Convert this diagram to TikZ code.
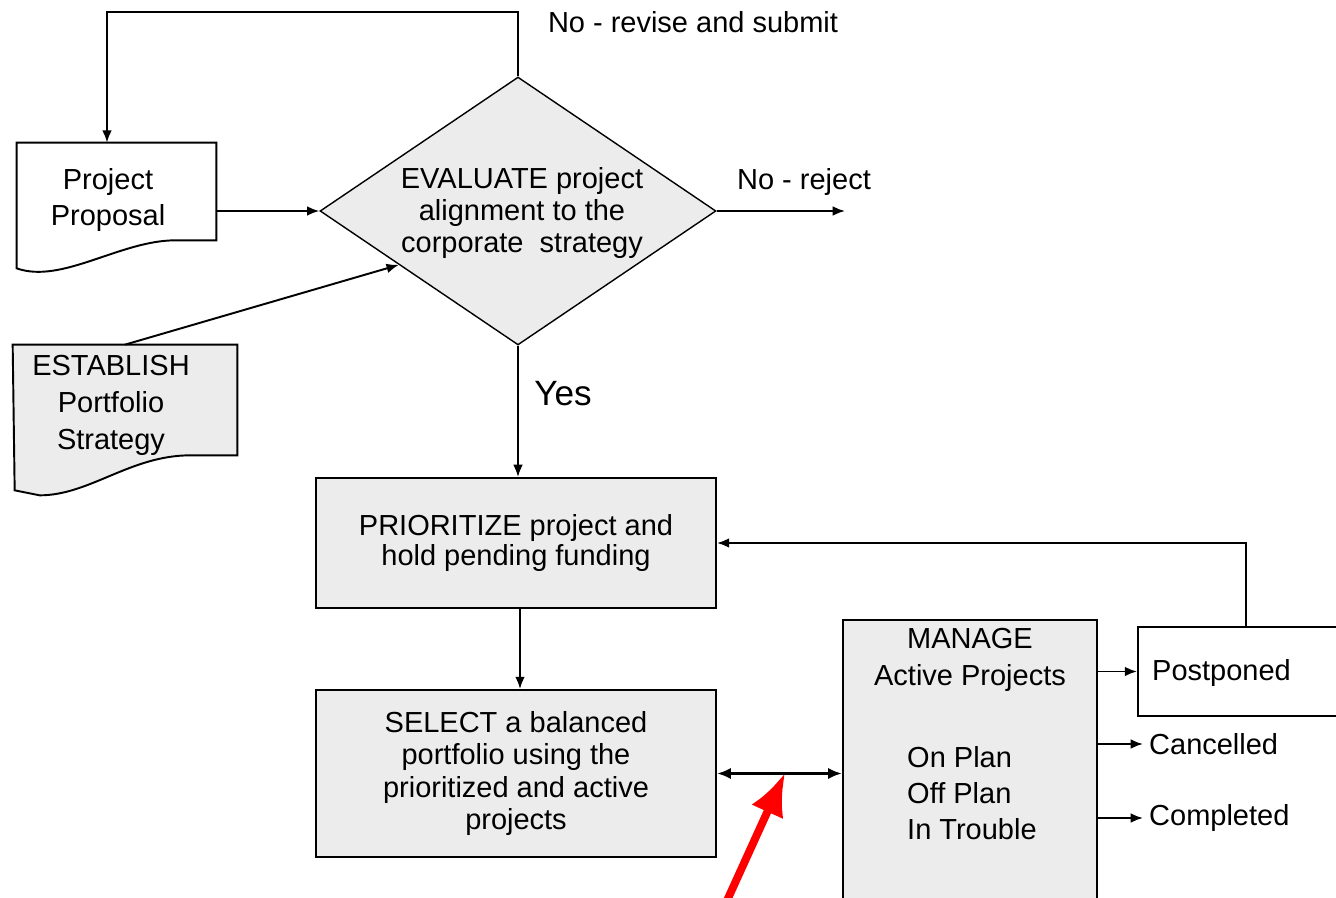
\documentclass[tikz,border=0pt]{standalone}
\usepackage{fontspec}
\setmainfont{Liberation Sans}
\usetikzlibrary{arrows,arrows.meta,positioning,calc,shapes.geometric}

\tikzset{
  flow/.style={line width=1.1pt, -{Latex[length=7pt,width=5.5pt]}},
  box/.style={draw, line width=1.1pt, fill=gray!15, rectangle, align=center,
              font=\fontsize{16.5}{18.5}\selectfont},
  plainbox/.style={draw, line width=1.1pt, rectangle},
  hidden/.style={rectangle, inner sep=0pt},
  txt/.style={align=center, font=\fontsize{16.5}{18.5}\selectfont},
}

\begin{document}
\begin{tikzpicture}[x=0.02cm, y=-0.02cm]
    \clip (0,0) rectangle (1336,898);

    % the two document shapes (outline only)
    \node[hidden, minimum width=3.98cm, minimum height=1.94cm] (prop) at (116.5,191.5) {};
    \node[hidden, minimum width=4.48cm, minimum height=2.2cm] (est) at (125,400) {};
    \draw[line width=1.1pt] (prop.south east) -- (prop.north east) -- (prop.north west)
        -- ($(prop.south west)+(0,28)$) .. controls +(45,16) and +(-55,0) .. ($(prop.south east)+(-41,0)$) -- cycle;
    \draw[line width=1.1pt, fill=gray!15] (est.north west) -- (est.north east) -- (est.south east)
        -- ($(est.south east)+(-47,0)$) .. controls +(-60,0) and +(50,0) .. ($(est.south west)+(27,40)$)
        -- ($(est.south west)+(2,35)$) -- cycle;
    \node[txt, font=\fontsize{16.5}{20}\selectfont] (proptxt) at (108,200) {Project\\Proposal};
    \node[txt, font=\fontsize{16.5}{21}\selectfont] (esttxt) at (111,405) {ESTABLISH\\Portfolio\\Strategy};

    % the decision
    \node[diamond, draw, line width=0.8pt, fill=gray!15, minimum width=7.92cm, minimum height=5.36cm,
          inner sep=0pt] (eval) at (518,211) {};
    \node[txt, font=\fontsize{16.5}{18.3}\selectfont] (evaltxt) at (522,213) {EVALUATE project\\alignment to the\\corporate~ strategy};

    % process boxes
    \node[box, minimum width=8cm, minimum height=2.6cm, font=\fontsize{16.5}{17}\selectfont] (prio) at (516,543)
        {\raisebox{-3pt}{PRIORITIZE project and}\\\raisebox{-3pt}{hold pending funding}};
    \node[box, minimum width=8cm, minimum height=3.34cm] (sel) at (516,773.5)
        {SELECT a balanced\\portfolio using the\\prioritized and active\\projects};
    \node[box, minimum width=5.08cm, minimum height=6.8cm] (mng) at (970,790) {};
    \node[txt, font=\fontsize{16.5}{21}\selectfont] (mngtitle) at (970,660) {MANAGE\\Active Projects};
    \node[txt, anchor=west, align=left, font=\fontsize{16.5}{20.5}\selectfont] (mngstat) at (901,793)
        {On Plan\\Off Plan\\In Trouble};

    % outcomes
    \node[plainbox, minimum width=4.84cm, minimum height=1.78cm] (post) at (1259,671.5) {};
    \node[txt, anchor=west] (posttxt) at (1146,673) {Postponed};
    \node[txt, anchor=west] (cancel) at (1143,744) {Cancelled};
    \node[txt, anchor=west] (complete) at (1143,818) {Completed};

    % labels
    \node[txt] (revise) at (693,22) {No - revise and submit};
    \node[txt] (rejecttxt) at (804,182) {No - reject};
    \node[txt, font=\fontsize{20}{22}\selectfont] (yes) at (563,394) {Yes};

    \coordinate (loop) at (107,12);
    \coordinate (reject) at (845,211);
    \coordinate (redtail) at (725,905);
    \coordinate (redtip) at (785,773);

    % connectors
    \draw[flow] (eval.north) |- (loop) -- (loop |- prop.north);
    \draw[flow] (prop.east |- eval.west) -- (eval.west);
    \draw[flow] (eval.east) -- (reject);
    \draw[flow] (est.north) -- ($(eval.west)!0.4!(eval.south)$);
    \draw[flow] (eval.south) -- (eval.south |- prio.north);
    \draw[flow] ([xshift=0.08cm]prio.south) -- ([xshift=0.08cm]sel.north);
    \draw[line width=2.2pt, {Latex[length=8pt,width=6.5pt]}-{Latex[length=8pt,width=6.5pt]}]
        (sel.east) -- (sel.east -| mng.west);
    \draw[flow] (mng.east |- post.west) -- (post.west);
    \draw[flow] ([xshift=-0.26cm]post.north) |- (prio.east);
    \draw[flow] (mng.east |- cancel.west) -- (cancel.west);
    \draw[flow] (mng.east |- complete.west) -- (complete.west);

    % the red pointer
    \draw[red, line width=4.5pt, -{Latex[length=0.85cm,width=0.7cm]}] (redtail) -- (redtip);
\end{tikzpicture}
\end{document}
